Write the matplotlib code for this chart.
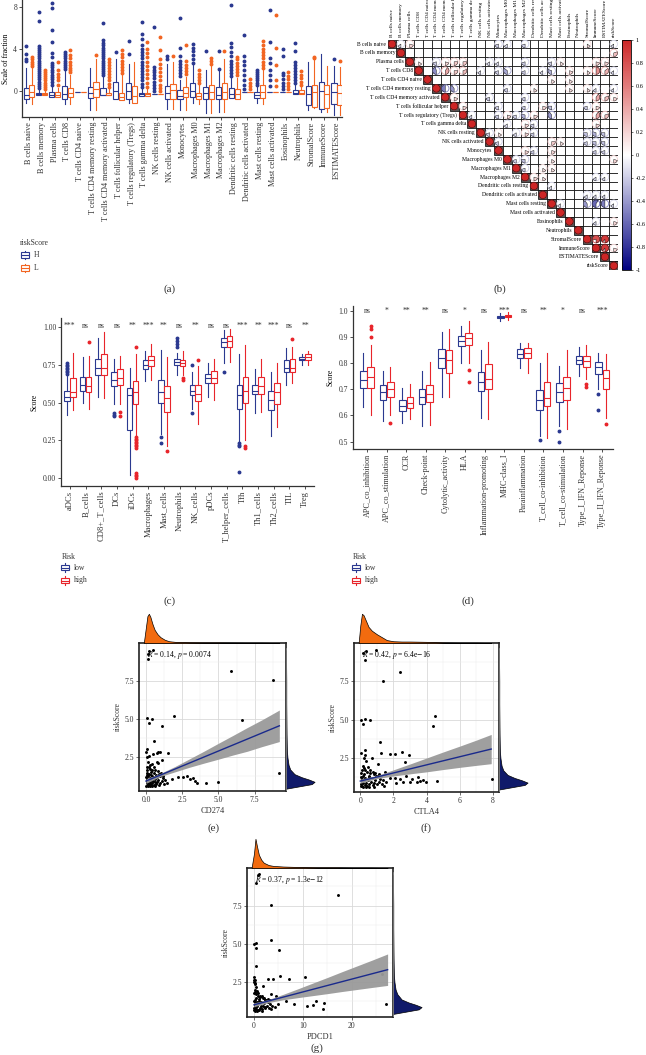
import matplotlib
matplotlib.use("Agg")
import matplotlib.pyplot as plt
import numpy as np
from matplotlib.patches import Rectangle, Circle, Wedge
from matplotlib.colors import LinearSegmentedColormap, Normalize
from matplotlib.cm import ScalarMappable

plt.rcParams['font.family'] = ['Liberation Serif', 'DejaVu Serif']
plt.rcParams['mathtext.fontset'] = 'stix'

# ---------------- data ----------------
# (a) CIBERSORT / ESTIMATE fractions, riskScore H vs L  -> (lo, q1, med, q3, hi)
a_cells = ["B cells naive", "B cells memory", "Plasma cells", "T cells CD8", "T cells CD4 naive",
           "T cells CD4 memory resting", "T cells CD4 memory activated", "T cells follicular helper",
           "T cells regulatory (Tregs)", "T cells gamma delta", "NK cells resting", "NK cells activated",
           "Monocytes", "Macrophages M0", "Macrophages M1", "Macrophages M2", "Dendritic cells resting",
           "Dendritic cells activated", "Mast cells resting", "Mast cells activated", "Eosinophils",
           "Neutrophils", "StromalScore", "ImmuneScore", "ESTIMATEScore"]
a_H = [(-1.15, -0.73, -0.42, 0.32, 2.15), (-0.35, -0.35, -0.3, -0.2, 0.1), (-0.55, -0.55, -0.35, -0.05, 0.35),
       (-1.2, -0.75, -0.3, 0.45, 1.9), (-0.1, -0.1, -0.1, -0.1, -0.1), (-1.8, -0.7, -0.15, 0.35, 2.2),
       (-0.4, -0.4, -0.35, 0.3, 1.3), (-0.8, -0.8, 0.0, 0.85, 3.0), (-1.1, -0.75, 0.0, 0.8, 2.6),
       (-0.5, -0.5, -0.3, -0.2, 0.2), (-0.3, -0.3, -0.3, -0.3, -0.3), (-1.7, -0.8, -0.2, 0.5, 2.6),
       (-1.8, -0.8, -0.5, 0.1, 1.0), (-1.1, -0.6, 0.0, 0.8, 2.5), (-2.1, -0.8, -0.2, 0.4, 2.0),
       (-2.0, -0.8, -0.35, 0.4, 1.9), (-0.7, -0.7, -0.3, 0.3, 1.2), (-0.1, -0.1, -0.1, -0.1, -0.1),
       (-1.1, -0.7, -0.4, -0.1, 0.4), (-0.1, -0.1, -0.1, -0.1, -0.1), (-0.1, -0.1, -0.1, -0.1, -0.1),
       (-0.3, -0.3, -0.2, 0.1, 0.6), (-1.8, -1.35, -0.3, 0.45, 2.8), (-2.0, -1.7, 0.0, 0.86, 3.5),
       (-2.3, -1.25, -0.07, 0.73, 2.4)]
a_H_out = [[2.9, 3.0, 3.5, 4.3],
           [0.3, 0.5, 0.7, 0.9, 1.1, 1.3, 1.5, 1.7, 1.9, 2.1, 2.3, 2.5, 2.7, 2.9, 3.1, 3.3, 3.5, 3.7, 3.9, 4.1, 4.3, 6.7, 7.5],
           [0.6, 0.9, 1.1, 1.3, 1.5, 1.8, 2.0, 2.3, 2.5, 2.7, 3.2, 3.6, 4.7, 5.8, 7.9, 8.4],
           [2.1, 2.3, 2.5, 2.7, 2.9, 3.1, 3.3, 3.5, 3.7], [], [],
           [1.5, 1.7, 1.9, 2.1, 2.3, 2.5, 2.7, 2.9, 3.1, 3.3, 3.5, 3.7, 3.9, 4.1, 4.4, 4.6, 4.9, 6.5],
           [3.7], [3.5, 4.8],
           [0.4, 0.7, 1.0, 1.3, 1.6, 1.9, 2.2, 2.5, 2.8, 3.1, 3.4, 3.7, 4.0, 4.4, 5.0, 5.4, 6.6],
           [0.0, 0.3, 0.6, 0.9, 1.2, 1.5, 1.8, 2.0, 2.3, 6.1],
           [3.0, 3.3], [1.4, 1.7, 2.0, 2.3, 2.6, 2.9, 3.3, 4.1, 7.0], [2.7, 3.0, 3.4, 3.8, 4.1, 4.5],
           [3.8], [2.1, 3.8], [1.4, 1.7, 2.0, 2.3, 2.6, 2.9, 3.3, 3.7, 4.2, 4.6, 8.2],
           [0.2, 0.6, 1.0, 1.5, 2.0, 2.5, 2.9, 3.3, 5.3], [0.6, 0.8, 1.0, 1.2, 1.4, 1.6, 1.8, 2.0],
           [0.5, 1.0, 1.5, 2.0, 2.7, 3.1, 4.7, 7.7], [0.2, 0.5, 0.8, 1.1, 1.5, 1.7, 3.3, 4.0],
           [0.8, 1.0, 1.3, 1.6, 1.9, 2.2, 2.5, 2.8, 3.8, 4.6], [], [], [3.05]]
a_L = [(-1.2, -0.55, -0.1, 0.55, 2.3), (-0.35, -0.35, -0.3, -0.2, 0.0), (-0.55, -0.55, -0.35, -0.05, 0.3),
       (-1.2, -0.6, -0.2, 0.3, 1.5), (-0.1, -0.1, -0.1, -0.1, -0.1), (-1.8, -0.6, 0.2, 0.9, 3.0),
       (-0.4, -0.4, -0.35, -0.2, 0.2), (-0.9, -0.9, -0.6, -0.2, 1.5), (-1.1, -1.1, -0.45, 0.5, 2.8),
       (-0.5, -0.5, -0.3, -0.2, 0.2), (-0.3, -0.3, -0.3, -0.3, -0.3), (-1.7, -0.8, 0.1, 0.7, 2.8),
       (-1.8, -0.6, -0.2, 0.4, 1.3), (-1.2, -0.8, -0.5, -0.2, 0.6), (-2.1, -0.8, -0.1, 0.6, 2.4),
       (-2.0, -0.8, -0.1, 0.8, 3.0), (-0.8, -0.8, -0.3, 0.2, 1.2), (-0.1, -0.1, -0.1, -0.1, -0.1),
       (-1.2, -0.7, -0.1, 0.6, 2.0), (-0.1, -0.1, -0.1, -0.1, -0.1), (-0.1, -0.1, -0.1, -0.1, -0.1),
       (-0.3, -0.3, -0.2, 0.1, 0.4), (-1.6, -1.5, -0.1, 0.54, 3.0), (-2.0, -1.6, -0.3, 0.6, 2.4),
       (-2.3, -1.3, -0.17, 0.57, 2.3)]
a_L_out = [[2.4, 2.6, 2.8, 3.0, 3.2], [0.2, 0.4, 0.6, 0.8, 1.0, 1.2, 1.4, 1.6, 1.8, 2.0],
           [0.6, 1.0, 1.3, 1.6, 2.0, 2.8], [1.8, 2.0, 2.2, 2.5, 2.8, 3.1, 3.4, 3.9], [], [3.4],
           [0.4, 0.7, 1.0, 1.3, 1.6, 1.9, 2.2, 2.5, 2.8, 3.0], [1.7, 2.0, 2.3, 2.6, 2.9, 3.2, 3.5, 3.9], [],
           [0.4, 0.8, 1.2, 1.6, 2.0, 2.4, 2.8, 3.2, 3.6, 4.0, 4.7],
           [0.0, 0.3, 0.6, 1.0, 1.4, 1.8, 2.2, 2.6, 3.0, 3.9, 5.1], [3.3], [1.6, 1.9, 2.2, 2.5, 2.9, 4.4],
           [0.8, 1.0, 1.3, 1.6, 2.0], [2.6, 2.9, 3.1], [3.8], [1.5, 1.8, 2.1, 2.4, 2.7, 3.0, 3.2],
           [0.2, 0.5, 0.8, 1.1], [2.2, 2.5, 2.8, 3.1, 3.4, 3.7, 4.0, 4.4, 4.8], [0.5, 1.0, 2.5, 4.1, 7.2],
           [0.2, 0.5, 0.8, 1.1, 1.4, 1.8], [0.6, 0.9, 1.2, 1.5, 1.9], [3.1, 3.2], [], [2.9]]

# (b) correlation matrix, upper triangle (row, col, r); diagonal = 1
b_vars = a_cells + ["riskScore"]
b_pairs = [(0, 1, -0.15), (0, 2, 0.2), (0, 12, -0.2), (0, 13, -0.15), (0, 15, -0.2), (0, 22, 0.15), (0, 25, -0.15),
           (1, 25, 0.3),
           (2, 3, 0.15), (2, 5, -0.2), (2, 6, 0.2), (2, 7, 0.25), (2, 8, 0.25), (2, 11, -0.15), (2, 12, -0.15),
           (2, 15, -0.2), (2, 18, -0.2), (2, 19, 0.15), (2, 23, 0.2), (2, 24, 0.2),
           (3, 5, -0.45), (3, 6, 0.4), (3, 7, 0.25), (3, 8, 0.3), (3, 10, -0.15), (3, 12, -0.2), (3, 13, -0.35),
           (3, 15, -0.2), (3, 17, -0.15), (3, 18, -0.3), (3, 20, 0.2), (3, 22, 0.15), (3, 23, 0.5), (3, 24, 0.35),
           (3, 25, -0.15),
           (4, 18, 0.15), (4, 20, 0.15),
           (5, 6, -0.5), (5, 7, -0.4), (5, 13, -0.2), (5, 16, 0.15), (5, 20, 0.15), (5, 22, 0.15), (5, 23, -0.15),
           (5, 25, -0.15),
           (6, 7, 0.2), (6, 11, -0.2), (6, 15, -0.2), (6, 23, 0.4), (6, 24, 0.3), (6, 25, 0.2),
           (7, 8, 0.2), (7, 12, -0.2), (7, 15, -0.2), (7, 17, 0.2), (7, 18, -0.25), (7, 22, -0.2), (7, 23, 0.2),
           (8, 9, -0.15), (8, 12, -0.2), (8, 13, 0.2), (8, 14, -0.2), (8, 15, -0.3), (8, 16, 0.2), (8, 18, -0.4),
           (8, 23, 0.4), (8, 24, 0.3),
           (9, 13, -0.15), (9, 15, 0.2), (9, 16, -0.2), (9, 23, 0.2),
           (10, 11, -0.2), (10, 12, 0.15), (10, 14, -0.15), (10, 15, 0.2), (10, 16, -0.2), (10, 22, -0.25),
           (10, 23, -0.3), (10, 24, -0.25),
           (11, 12, -0.2), (11, 18, 0.25), (11, 19, 0.15), (11, 22, -0.2), (11, 23, -0.25), (11, 24, -0.25),
           (12, 15, 0.2), (12, 16, -0.2), (12, 18, 0.2), (12, 23, -0.2), (12, 24, -0.2),
           (13, 14, -0.2), (13, 15, -0.25), (13, 18, 0.15), (13, 25, 0.2),
           (14, 15, -0.2), (14, 17, 0.15), (14, 18, 0.15),
           (15, 16, 0.2), (15, 17, 0.15), (15, 23, -0.15), (15, 24, -0.15),
           (16, 18, -0.15),
           (17, 22, -0.15), (17, 23, -0.15), (17, 24, -0.15),
           (18, 19, -0.15), (18, 22, -0.4), (18, 23, -0.6), (18, 24, -0.5), (18, 25, -0.15),
           (20, 23, -0.15), (20, 25, 0.2),
           (22, 23, 0.8), (22, 24, 0.9),
           (23, 24, 0.9), (23, 25, 0.2)]

# (c) immune cell ssGSEA scores, low vs high risk
c_cells = ["aDCs", "B_cells", "CD8+_T_cells", "DCs", "iDCs", "Macrophages", "Mast_cells", "Neutrophils",
           "NK_cells", "pDCs", "T_helper_cells", "Tfh", "Th1_cells", "Th2_cells", "TIL", "Treg"]
c_sig = ["***", "ns", "ns", "ns", "**", "***", "**", "ns", "**", "ns", "ns", "***", "**", "***", "ns", "**"]
c_low = [(0.42, 0.51, 0.54, 0.58, 0.68), (0.50, 0.58, 0.62, 0.67, 0.80), (0.54, 0.68, 0.73, 0.79, 0.93),
         (0.49, 0.61, 0.65, 0.70, 0.79), (0.02, 0.32, 0.55, 0.60, 0.73), (0.64, 0.72, 0.75, 0.78, 0.84),
         (0.29, 0.50, 0.57, 0.65, 0.85), (0.68, 0.75, 0.77, 0.79, 0.83), (0.46, 0.55, 0.58, 0.62, 0.70),
         (0.54, 0.63, 0.66, 0.69, 0.76), (0.76, 0.87, 0.90, 0.93, 0.98), (0.24, 0.46, 0.55, 0.62, 0.82),
         (0.43, 0.56, 0.58, 0.62, 0.72), (0.28, 0.45, 0.52, 0.58, 0.70), (0.62, 0.70, 0.73, 0.78, 0.86),
         (0.75, 0.78, 0.79, 0.80, 0.82)]
c_low_out = [[0.69, 0.70, 0.71, 0.72, 0.73, 0.74, 0.75, 0.76], [], [], [0.41, 0.42, 0.43], [], [],
             [0.27, 0.23], [0.87, 0.89, 0.91, 0.93], [0.75, 0.43], [], [0.70], [0.23, 0.22, 0.21, 0.04],
             [], [], [], []]
c_high = [(0.45, 0.54, 0.57, 0.66, 0.83), (0.46, 0.57, 0.61, 0.67, 0.81), (0.53, 0.68, 0.73, 0.82, 0.97),
          (0.49, 0.62, 0.66, 0.72, 0.81), (0.28, 0.49, 0.57, 0.64, 0.82), (0.65, 0.74, 0.78, 0.81, 0.89),
          (0.21, 0.44, 0.53, 0.61, 0.80), (0.68, 0.74, 0.76, 0.78, 0.84), (0.36, 0.51, 0.56, 0.62, 0.74),
          (0.52, 0.63, 0.66, 0.71, 0.79), (0.77, 0.87, 0.91, 0.94, 0.99), (0.25, 0.50, 0.58, 0.67, 0.88),
          (0.44, 0.56, 0.61, 0.67, 0.79), (0.34, 0.49, 0.57, 0.63, 0.76), (0.63, 0.70, 0.73, 0.79, 0.87),
          (0.75, 0.78, 0.80, 0.82, 0.84)]
c_high_out = [[], [0.90], [], [0.44, 0.41], [0.87, 0.27, 0.26, 0.25, 0.24, 0.23, 0.22, 0.21, 0.20, 0.03, 0.02, 0.01, 0.0],
              [], [0.18], [0.66, 0.65], [0.78], [], [], [0.21, 0.20], [], [], [0.92], []]

# (d) immune function scores
d_funcs = ["APC_co_inhibition", "APC_co_stimulation", "CCR", "Check-point", "Cytolytic_activity", "HLA",
           "Inflammation-promoting", "MHC-class_I", "Parainflammation", "T_cell_co-inhibition",
           "T_cell_co-stimulation", "Type_I_IFN_Reponse", "Type_II_IFN_Reponse"]
d_sig = ["ns", "*", "**", "**", "ns", "*", "ns", "***", "ns", "**", "*", "ns", "***"]
d_low = [(0.634, 0.704, 0.736, 0.768, 0.838), (0.577, 0.657, 0.689, 0.717, 0.770), (0.570, 0.618, 0.637, 0.660, 0.705),
         (0.560, 0.643, 0.670, 0.700, 0.770), (0.670, 0.780, 0.818, 0.855, 0.920), (0.800, 0.865, 0.885, 0.905, 0.940),
         (0.590, 0.693, 0.727, 0.765, 0.850), (0.960, 0.970, 0.975, 0.980, 0.990), (0.780, 0.819, 0.834, 0.855, 0.875),
         (0.520, 0.622, 0.658, 0.697, 0.800), (0.560, 0.650, 0.688, 0.722, 0.790), (0.750, 0.795, 0.812, 0.825, 0.860),
         (0.700, 0.757, 0.783, 0.805, 0.840)]
d_low_out = [[], [], [], [], [], [], [], [], [], [0.505], [0.54, 0.497], [], [0.683, 0.62]]
d_high = [(0.600, 0.704, 0.746, 0.785, 0.870), (0.600, 0.672, 0.700, 0.726, 0.785), (0.588, 0.627, 0.647, 0.670, 0.720),
          (0.563, 0.653, 0.682, 0.716, 0.805), (0.670, 0.763, 0.810, 0.850, 0.930), (0.800, 0.870, 0.895, 0.915, 0.960),
          (0.587, 0.700, 0.738, 0.795, 0.880), (0.965, 0.975, 0.980, 0.985, 0.995), (0.760, 0.820, 0.840, 0.858, 0.875),
          (0.512, 0.635, 0.668, 0.727, 0.840), (0.550, 0.660, 0.705, 0.748, 0.850), (0.740, 0.785, 0.808, 0.826, 0.870),
          (0.590, 0.700, 0.742, 0.773, 0.835)]
d_high_out = [[0.90, 0.93, 0.94], [0.572], [], [], [], [0.772, 0.728], [], [], [], [], [], [0.718, 0.71], [0.567]]

# (e) CD274 vs riskScore
e_x = [0.23, 0.46, 0.16, 0.16, 5.86, 8.78, 0.09, 0.41, 0.18, 1.95, 6.64, 1.13, 0.53, 0.05, 0.0, 0.23, 0.05, 0.5,
       0.74, 0.85, 0.97, 1.5, 0.74, 0.85, 0.28, 1.08, 9.17, 2.57, 2.8, 3.03, 3.22, 3.38, 3.5, 4.12, 4.95, 1.82,
       1.43, 2.23,
       0.02, 0.05, 0.08, 0.1, 0.12, 0.15, 0.18, 0.2, 0.22, 0.25, 0.28, 0.3, 0.33, 0.35, 0.38, 0.4, 0.43, 0.45,
       0.48, 0.5, 0.55, 0.58, 0.6, 0.65, 0.7, 0.72, 0.78, 0.82, 0.85, 0.9, 0.95, 1.0, 1.05, 1.1, 1.2, 1.25, 1.3,
       0.05, 0.08, 0.1, 0.15, 0.2, 0.3, 0.4, 0.55, 0.65, 0.12, 0.25, 0.45, 0.6, 0.02, 0.06, 0.35, 0.75, 0.9, 1.15]
e_y = [9.43, 9.5, 9.24, 8.9, 8.13, 7.54, 5.04, 5.0, 4.72, 5.22, 4.96, 4.54, 3.57, 3.04, 2.83, 2.59, 2.5, 2.72,
       2.78, 2.83, 2.87, 2.76, 2.22, 2.1, 2.0, 2.33, 1.46, 1.24, 1.28, 1.07, 1.17, 0.96, 0.85, 0.8, 0.87, 1.07,
       0.8, 1.2,
       0.65, 0.8, 0.95, 1.1, 0.7, 1.25, 0.85, 1.0, 1.4, 0.75, 1.15, 0.9, 1.55, 0.68, 1.05, 1.3, 0.82, 1.7,
       0.95, 1.2, 0.72, 1.45, 0.88, 1.1, 0.78, 1.35, 0.92, 1.6, 1.02, 0.7, 1.25, 0.85, 1.5, 0.95, 1.15, 0.75, 1.05,
       1.5, 1.85, 1.65, 2.2, 1.9, 1.75, 2.05, 1.85, 1.65, 0.6, 0.6, 0.62, 0.64, 1.2, 1.35, 1.35, 1.2, 1.4, 1.3]
e_band_x = [0.0, 1.0, 2.0, 3.0, 4.0, 5.0, 6.0, 7.0, 8.0, 9.2]
e_band_lo = [0.80, 1.25, 1.55, 1.85, 2.12, 2.38, 2.65, 2.90, 3.20, 3.53]
e_band_hi = [1.10, 1.45, 1.90, 2.40, 2.90, 3.42, 3.93, 4.45, 4.95, 5.59]
e_fit_x = [0.0, 9.2]
e_fit_y = [0.95, 4.56]
e_top_x = [-0.15, 0.0, 0.1, 0.2, 0.3, 0.45, 0.6, 0.8, 1.0, 1.3, 1.6, 2.0, 3.0, 4.0, 5.0, 6.0, 7.0, 8.0, 9.2]
e_top_d = [0.0, 0.55, 0.92, 1.0, 0.9, 0.65, 0.45, 0.3, 0.2, 0.11, 0.06, 0.04, 0.025, 0.02, 0.02, 0.015, 0.01, 0.01, 0.0]
e_right_y = [0.45, 0.6, 0.75, 0.9, 1.05, 1.2, 1.4, 1.7, 2.0, 2.5, 3.0, 4.0, 5.0, 6.0, 7.5, 8.5, 9.5]
e_right_d = [0.0, 0.45, 0.9, 1.0, 0.8, 0.55, 0.3, 0.15, 0.09, 0.05, 0.03, 0.02, 0.015, 0.01, 0.01, 0.005, 0.0]

# (f) CTLA4 vs riskScore
f_x = [0.16, 0.36, 0.26, 0.93, 2.42, 1.39, 0.02, 0.26, 0.16, 0.6, 4.5, 4.37, 1.19, 1.23, 1.81, 2.08, 2.52, 2.92,
       0.3, 0.06, 0.26, 0.2, 0.32, 0.71, 1.07, 2.68, 7.96, 4.64, 1.47, 1.77, 2.08, 2.38, 2.78, 2.98, 3.43, 3.79,
       3.99, 2.18, 3.15, 3.5, 3.6, 2.56,
       0.02, 0.05, 0.08, 0.1, 0.12, 0.15, 0.18, 0.2, 0.25, 0.28, 0.3, 0.35, 0.38, 0.4, 0.45, 0.5, 0.55, 0.6, 0.62,
       0.7, 0.75, 0.8, 0.85, 0.9, 1.0, 1.05, 1.1, 1.2, 1.3, 1.4, 0.05, 0.1, 0.15, 0.2, 0.3, 0.45, 0.6, 0.75, 0.9,
       1.1, 0.15, 0.35, 0.55, 0.85, 0.02, 0.5, 0.95, 1.25, 1.45, 1.55]
f_y = [9.32, 9.43, 8.88, 9.49, 8.08, 7.5, 4.95, 5.05, 4.73, 4.99, 5.2, 4.56, 3.54, 2.85, 2.76, 2.76, 2.89, 2.72,
       3.0, 2.82, 2.67, 2.5, 2.33, 2.5, 2.09, 2.24, 1.16, 1.03, 1.57, 1.22, 1.22, 1.11, 1.31, 0.94, 0.94, 1.09,
       0.94, 0.88, 1.16, 1.27, 0.98, 0.94,
       0.65, 0.8, 1.0, 1.15, 0.7, 1.3, 0.85, 1.05, 1.45, 0.75, 1.2, 0.9, 1.6, 0.68, 1.1, 1.35, 0.82, 1.5, 0.95,
       1.2, 0.72, 1.45, 0.9, 1.1, 0.78, 1.3, 0.95, 1.15, 0.8, 1.05, 1.55, 1.75, 2.0, 1.85, 1.7, 1.9, 1.75, 1.6, 1.55,
       1.45, 0.62, 0.6, 0.63, 0.62, 1.25, 1.25, 1.3, 1.35, 0.7, 0.95]
f_band_x = [0.0, 1.0, 2.0, 3.0, 4.0, 5.0, 6.0, 7.0, 7.9]
f_band_lo = [0.87, 1.16, 1.33, 1.47, 1.60, 1.75, 1.89, 2.02, 2.13]
f_band_hi = [1.13, 1.36, 1.73, 2.11, 2.50, 2.89, 3.27, 3.66, 4.03]
f_fit_x = [0.0, 7.9]
f_fit_y = [1.0, 3.08]
f_top_x = [-0.1, 0.0, 0.1, 0.2, 0.35, 0.5, 0.7, 1.0, 1.3, 1.6, 2.0, 2.5, 3.0, 4.0, 5.0, 6.0, 7.0, 7.9]
f_top_d = [0.0, 0.6, 1.0, 0.95, 0.75, 0.55, 0.42, 0.3, 0.2, 0.1, 0.06, 0.05, 0.05, 0.04, 0.02, 0.01, 0.01, 0.0]
f_right_y = [0.45, 0.6, 0.75, 0.9, 1.05, 1.2, 1.4, 1.7, 2.0, 2.5, 3.0, 4.0, 5.0, 6.0, 7.5, 8.5, 9.5]
f_right_d = [0.0, 0.45, 0.9, 1.0, 0.8, 0.55, 0.3, 0.15, 0.09, 0.05, 0.03, 0.02, 0.015, 0.01, 0.01, 0.005, 0.0]

# (g) PDCD1 vs riskScore
g_x = [0.82, 0.34, 0.95, 17.1, 3.54, 3.47, 0.07, 0.34, 0.48, 5.1, 0.48, 0.07, 0.2, 0.2, 0.48, 2.86, 3.88, 5.24,
       7.14, 10.5, 26.2, 27.0, 1.84, 4.42, 3.54, 6.46, 8.1, 10.8, 12.0, 12.6, 14.4, 14.2, 4.9, 3.2, 2.18, 4.2,
       0.05, 0.1, 0.15, 0.2, 0.25, 0.3, 0.35, 0.4, 0.45, 0.5, 0.6, 0.7, 0.8, 0.9, 1.0, 1.1, 1.2, 1.3, 1.4, 1.5,
       1.6, 1.8, 1.9, 2.0, 2.2, 2.4, 2.6, 2.8, 3.0, 3.2, 0.1, 0.2, 0.15, 0.3, 0.4, 0.6, 0.9, 1.2, 1.6, 2.0, 0.3,
       0.7, 1.1, 1.7, 0.05, 1.0, 2.2, 2.8, 3.4, 3.6, 0.05, 0.1]
g_y = [9.52, 9.01, 9.56, 8.16, 7.54, 5.24, 4.98, 5.02, 4.74, 4.58, 3.53, 2.83, 2.61, 2.39, 2.17, 2.72, 2.72, 2.87,
       2.7, 2.83, 3.0, 1.07, 2.21, 1.58, 1.73, 1.25, 1.07, 0.9, 0.96, 1.25, 1.12, 0.75, 1.07, 1.29, 0.86, 0.86,
       0.65, 0.8, 1.0, 1.15, 0.7, 1.3, 0.85, 1.05, 1.45, 0.75, 1.2, 0.9, 1.6, 0.68, 1.1, 1.35, 0.82, 1.5, 0.95,
       1.2, 0.72, 1.45, 0.9, 1.1, 0.78, 1.3, 0.95, 1.15, 0.8, 1.05, 1.75, 2.0, 2.4, 1.85, 1.7, 1.9, 1.75, 1.6, 1.55,
       1.45, 0.62, 0.6, 0.63, 0.62, 1.25, 1.25, 1.3, 1.35, 0.7, 0.95, 2.65, 2.5]
g_band_x = [0.0, 3.0, 6.0, 9.0, 12.0, 15.0, 18.0, 21.0, 24.0, 27.3]
g_band_lo = [0.87, 1.15, 1.33, 1.47, 1.60, 1.73, 1.87, 2.00, 2.13, 2.27]
g_band_hi = [1.13, 1.35, 1.69, 2.05, 2.42, 2.79, 3.17, 3.54, 3.91, 4.33]
g_fit_x = [0.0, 27.3]
g_fit_y = [1.0, 3.30]
g_top_x = [-0.5, 0.0, 0.3, 0.6, 1.0, 1.5, 2.0, 3.0, 4.0, 6.0, 8.0, 10.0, 13.0, 17.0, 20.0, 24.0, 27.3]
g_top_d = [0.0, 0.5, 1.0, 0.75, 0.45, 0.28, 0.18, 0.1, 0.07, 0.05, 0.04, 0.03, 0.02, 0.02, 0.01, 0.01, 0.0]
g_right_y = [0.4, 0.55, 0.7, 0.85, 1.0, 1.15, 1.35, 1.7, 2.0, 2.5, 3.0, 4.0, 5.0, 6.0, 7.5, 8.5, 9.5]
g_right_d = [0.0, 0.45, 0.9, 1.0, 0.8, 0.55, 0.3, 0.15, 0.09, 0.05, 0.03, 0.02, 0.015, 0.01, 0.01, 0.005, 0.0]

# ---------------- figure ----------------
W, H = 646, 1055
fig = plt.figure(figsize=(W / 100, H / 100), dpi=100)

NAVY = "#2b3990"
ORANGE = "#f26522"
RED = "#e8252b"
TXT = "#333333"


def px_axes(x0, y0, x1, y1):
    return fig.add_axes([x0 / W, 1 - y1 / H, (x1 - x0) / W, (y1 - y0) / H])


def draw_boxes(ax, stats, outs, pos, color, width):
    bx = [dict(whislo=s[0], q1=s[1], med=s[2], q3=s[3], whishi=s[4], fliers=o) for s, o in zip(stats, outs)]
    ax.bxp(bx, positions=pos, widths=width, showcaps=False, patch_artist=True, manage_ticks=False,
           boxprops=dict(facecolor="white", edgecolor=color, linewidth=0.8),
           medianprops=dict(color=color, linewidth=0.8),
           whiskerprops=dict(color=color, linewidth=0.8),
           flierprops=dict(marker="o", markerfacecolor=color, markeredgecolor=color, markersize=1.8))


def classic(ax, fs=5.5):
    for s in ["top", "right"]:
        ax.spines[s].set_visible(False)
    for s in ["left", "bottom"]:
        ax.spines[s].set_color(TXT)
        ax.spines[s].set_linewidth(0.9)
    ax.tick_params(length=2, width=0.6, pad=1.5, labelsize=fs, colors=TXT)


# (a)
ax_a = px_axes(22, 0, 342, 117)
pa = np.arange(1, len(a_cells) + 1)
draw_boxes(ax_a, a_H, a_H_out, pa - 0.225, NAVY, 0.4)
draw_boxes(ax_a, a_L, a_L_out, pa + 0.225, ORANGE, 0.4)
ax_a.set_xlim(0.456, 25.4)
ax_a.set_ylim(-2.48, 8.67)
ax_a.set_yticks([0, 4, 8])
ax_a.set_xticks(pa)
classic(ax_a)
ax_a.set_xticklabels(a_cells, rotation=90, fontsize=5.9)
ax_a.set_ylabel("Scale of fraction", fontsize=5.5, labelpad=2)

# (b)
cmap = LinearSegmentedColormap.from_list("nwf", ["#000080", "#ffffff", "#cd2626"])
n = len(b_vars)
ax_b = px_axes(387.6, 39.6, 387.6 + n * 8.87, 39.6 + n * 8.87)
ax_b.set_xlim(-0.5, n - 0.5)
ax_b.set_ylim(n - 0.5, -0.5)
ax_b.axis("off")
for i in range(n):
    for j in range(i, n):
        ax_b.add_patch(Rectangle((j - 0.5, i - 0.5), 1, 1, facecolor="#555555" if i == j else "white",
                                 edgecolor="black", linewidth=0.5))
vals = [(i, i, 1.0) for i in range(n)] + b_pairs
for i, j, r in vals:
    c = cmap((r + 1) / 2)
    ax_b.add_patch(Circle((j, i), 0.42, facecolor="white", edgecolor=c, linewidth=0.6))
    ext = 360 * abs(r)
    if r > 0:
        w = Wedge((j, i), 0.42, 90 - ext, 90, facecolor=c, edgecolor="black", linewidth=0.3)
    else:
        w = Wedge((j, i), 0.42, 90, 90 + ext, facecolor=c, edgecolor="black", linewidth=0.3)
    ax_b.add_patch(w)
for k, name in enumerate(b_vars):
    ax_b.text(k, -0.75, name, rotation=90, ha="center", va="bottom", fontsize=3.9, clip_on=False)
    ax_b.text(k - 0.65, k, name, ha="right", va="center", fontsize=4.1, clip_on=False)
cax = px_axes(622, 40, 631, 270)
sm = ScalarMappable(norm=Normalize(-1, 1), cmap=cmap)
cb = fig.colorbar(sm, cax=cax, ticks=np.linspace(-1, 1, 11))
cb.ax.set_yticklabels(["-1", "-0.8", "-0.6", "-0.4", "-0.2", "0", "0.2", "0.4", "0.6", "0.8", "1"])
cb.ax.tick_params(labelsize=4.5, length=1.5, width=0.4, pad=2)
cb.outline.set_linewidth(0.6)

# (c)
ax_c = px_axes(61, 318, 314, 486)
pc = np.arange(1, len(c_cells) + 1)
draw_boxes(ax_c, c_low, c_low_out, pc - 0.19, NAVY, 0.36)
draw_boxes(ax_c, c_high, c_high_out, pc + 0.19, RED, 0.36)
for p, s in zip(pc, c_sig):
    ax_c.text(p, 0.997, s, ha="center", va="baseline", fontsize=5.5, color=TXT)
ax_c.set_xlim(0.43, 16.57)
ax_c.set_ylim(-0.053, 1.061)
ax_c.set_yticks([0, 0.25, 0.5, 0.75, 1.0])
ax_c.set_yticklabels(["0.00", "0.25", "0.50", "0.75", "1.00"])
ax_c.set_xticks(pc)
classic(ax_c)
ax_c.set_xticklabels(c_cells, rotation=90, fontsize=6.1)
ax_c.set_ylabel("Score", fontsize=5.5, labelpad=3)

# (d)
ax_d = px_axes(353, 306, 613, 449)
pd_ = np.arange(1, len(d_funcs) + 1)
draw_boxes(ax_d, d_low, d_low_out, pd_ - 0.19, NAVY, 0.34)
draw_boxes(ax_d, d_high, d_high_out, pd_ + 0.19, RED, 0.34)
for p, s in zip(pd_, d_sig):
    ax_d.text(p, 0.99, s, ha="center", va="baseline", fontsize=5.5, color=TXT)
ax_d.set_xlim(0.286, 13.55)
ax_d.set_ylim(0.4718, 1.0176)
ax_d.set_yticks([0.5, 0.6, 0.7, 0.8, 0.9, 1.0])
ax_d.set_xticks(pd_)
classic(ax_d)
ax_d.set_xticklabels(d_funcs, rotation=90, fontsize=5.9)
ax_d.set_ylabel("Score", fontsize=5.5, labelpad=3)


# (e)(f)(g) scatter with marginal densities
def scatter_panel(box, xlim, ylim, xticks, xtl, xminor, xs, ys, fx, fy, bx, blo, bhi,
                  tx, td, ry, rd, annot, xlabel):
    x0, y0, x1, y1 = box
    ax = px_axes(x0, y0, x1, y1)
    ax.scatter(xs, ys, s=4.5, color="black", linewidths=0, zorder=3)
    ax.fill_between(bx, blo, bhi, color="#9a9a9a", alpha=0.95, linewidth=0, zorder=4)
    ax.plot(fx, fy, color="#1a2a8c", linewidth=1.0, zorder=5)
    ax.set_xlim(*xlim)
    ax.set_ylim(*ylim)
    ax.set_xticks(xticks)
    ax.set_xticklabels(xtl)
    ax.set_xticks(xminor, minor=True)
    ax.set_yticks([2.5, 5.0, 7.5])
    ax.set_yticklabels(["2.5", "5.0", "7.5"])
    ax.set_yticks([1.25, 3.75, 6.25, 8.75], minor=True)
    ax.grid(which="major", color="#d9d9d9", linewidth=0.6)
    ax.grid(which="minor", color="#ececec", linewidth=0.35)
    ax.set_axisbelow(True)
    for s in ax.spines.values():
        s.set_linewidth(1.2)
        s.set_color("#222222")
    ax.tick_params(which="major", length=2, width=0.5, pad=1.5, labelsize=5.5, colors=TXT)
    ax.tick_params(which="minor", length=0)
    ax.set_xlabel(xlabel, fontsize=6, labelpad=2, color=TXT)
    ax.set_ylabel("riskScore", fontsize=5.5, labelpad=2, color=TXT)
    ax.text(0.052, 0.92, annot, transform=ax.transAxes, fontsize=5.5, va="center", ha="left", zorder=6)

    at = px_axes(x0, y0 - 38, x1, y0)
    at.fill_between(tx, 0, td, color="#f26b0f", edgecolor="black", linewidth=0.5)
    at.set_xlim(*xlim)
    at.set_ylim(0, 1.3)
    at.axis("off")

    ar = px_axes(x1, y0, x1 + 32, y1)
    ar.fill_betweenx(ry, 0, rd, color="#101a6a", edgecolor="black", linewidth=0.5)
    ar.plot([0, 0], [ylim[0], 9.6], color="#888888", linewidth=1.2)
    ar.set_ylim(*ylim)
    ar.set_xlim(0, 1.12)
    ar.axis("off")


scatter_panel((139, 643, 286, 791), (-0.48, 9.66), (0.3, 9.97), [0, 2.5, 5.0, 7.5], ["0.0", "2.5", "5.0", "7.5"],
              [1.25, 3.75, 6.25, 8.75], e_x, e_y, e_fit_x, e_fit_y, e_band_x, e_band_lo, e_band_hi,
              e_top_x, e_top_d, e_right_y, e_right_d, r"$R$ = 0.14, $p$ = 0.0074", "CD274")
scatter_panel((354, 643, 499, 792), (-0.38, 8.37), (0.29, 9.97), [0, 2, 4, 6, 8], ["0", "2", "4", "6", "8"],
              [1, 3, 5, 7], f_x, f_y, f_fit_x, f_fit_y, f_band_x, f_band_lo, f_band_hi,
              f_top_x, f_top_d, f_right_y, f_right_d, r"$R$ = 0.42, $p$ = 6.4e$-$16", "CTLA4")
scatter_panel((247, 868, 393, 1017), (-1.43, 28.4), (0.2, 9.96), [0, 10, 20], ["0", "10", "20"],
              [5, 15, 25], g_x, g_y, g_fit_x, g_fit_y, g_band_x, g_band_lo, g_band_hi,
              g_top_x, g_top_d, g_right_y, g_right_d, r"$R$ = 0.37, $p$ = 1.3e$-$12", "PDCD1")

# overlay: legends and panel letters (pixel coordinates)
ov = fig.add_axes([0, 0, 1, 1])
ov.set_xlim(0, W)
ov.set_ylim(H, 0)
ov.axis("off")
ov.patch.set_visible(False)


def key(x, y, color):
    ov.add_patch(Rectangle((x - 4, y - 2.6), 8, 5.2, facecolor="white", edgecolor=color, linewidth=0.8))
    ov.plot([x - 4, x + 4], [y, y], color=color, linewidth=0.8)
    ov.plot([x, x], [y - 4.2, y - 2.6], color=color, linewidth=0.8)
    ov.plot([x, x], [y + 2.6, y + 4.2], color=color, linewidth=0.8)


ov.text(20, 243, "riskScore", fontsize=5.5, va="center", color=TXT)
key(25, 255, NAVY)
ov.text(34, 255, "H", fontsize=5.5, va="center", color=TXT)
key(25, 268, ORANGE)
ov.text(34, 268, "L", fontsize=5.5, va="center", color=TXT)

for lx in (62, 353):
    ov.text(lx, 557, "Risk", fontsize=5.5, va="center", color=TXT)
    key(lx + 3, 567.5, NAVY)
    ov.text(lx + 12, 567.5, "low", fontsize=5.5, va="center", color=TXT)
    key(lx + 3, 580.5, RED)
    ov.text(lx + 12, 580.5, "high", fontsize=5.5, va="center", color=TXT)

for lab, x, y in [("(a)", 170, 289), ("(b)", 500, 289), ("(c)", 170, 601), ("(d)", 468, 601),
                  ("(e)", 214, 828), ("(f)", 426, 828), ("(g)", 317, 1048)]:
    ov.text(x, y, lab, fontsize=8, ha="center", va="center", color=TXT)

fig.savefig("out.png", dpi=100)
